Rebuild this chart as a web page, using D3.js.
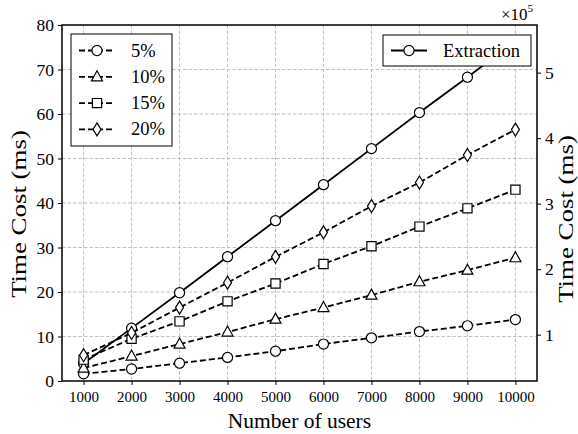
<!DOCTYPE html>
<html>
<head>
<meta charset="utf-8">
<script src="https://cdn.jsdelivr.net/npm/d3@7"></script>
<style>
  body { margin: 0; background: #fff; }
</style>
</head>
<body>
<svg id="chart" width="578" height="434"></svg>
<script>
// number of users (x categories)
var users = [1000, 2000, 3000, 4000, 5000, 6000, 7000, 8000, 9000, 10000];

// time cost (ms) for each sampling rate, left axis
var pct5  = [1.6, 2.7, 4.0, 5.3, 6.7, 8.3, 9.7, 11.1, 12.4, 13.8];
var pct10 = [2.9, 5.6, 8.3, 11.0, 13.9, 16.5, 19.3, 22.3, 24.9, 27.7];
var pct15 = [4.8, 9.5, 13.4, 17.9, 21.9, 26.3, 30.3, 34.7, 38.8, 43.0];
var pct20 = [5.8, 10.8, 16.5, 22.1, 27.9, 33.4, 39.3, 44.6, 50.8, 56.5];

// extraction time cost, right axis (x 10^5 ms)
var extraction = [0.56, 1.10, 1.64, 2.19, 2.74, 3.29, 3.84, 4.39, 4.93, 5.48];

var leftTicks = [0, 10, 20, 30, 40, 50, 60, 70, 80];
var rightTicks = [1, 2, 3, 4, 5];

var series = [
  { name: "5%",  values: pct5,  shape: "circle" },
  { name: "10%", values: pct10, shape: "triangle" },
  { name: "15%", values: pct15, shape: "square" },
  { name: "20%", values: pct20, shape: "diamond" }
];

var FONT = '"Liberation Serif", "Times New Roman", serif';
var margin = { left: 62, right: 41, top: 25, bottom: 53 };
var W = 578, H = 434;
var iw = W - margin.left - margin.right, ih = H - margin.top - margin.bottom;

var svg = d3.select("#chart").style("font-family", FONT);
var g = svg.append("g").attr("transform", "translate(" + margin.left + "," + margin.top + ")");

var x = d3.scalePoint().domain(users).range([0, iw]).padding(0.45);
var yL = d3.scaleLinear().domain([0, 80]).range([ih, 0]);
var yR = d3.scaleLinear().domain([0.293, 5.727]).range([ih, 0]);

// grid
g.append("g").selectAll("line").data(users).enter().append("line")
  .attr("x1", function(d) { return x(d); }).attr("x2", function(d) { return x(d); })
  .attr("y1", 0).attr("y2", ih)
  .attr("stroke", "#b0b0b0").attr("stroke-width", 0.8).attr("stroke-dasharray", "3.5,2");
g.append("g").selectAll("line").data(leftTicks.slice(1, -1)).enter().append("line")
  .attr("x1", 0).attr("x2", iw)
  .attr("y1", function(d) { return yL(d); }).attr("y2", function(d) { return yL(d); })
  .attr("stroke", "#b0b0b0").attr("stroke-width", 0.8).attr("stroke-dasharray", "3.5,2");

function drawMarker(sel, shape) {
  var p;
  if (shape === "diamond") {
    p = sel.append("path").attr("d", "M0,-6.5L4,0L0,6.5L-4,0Z");
  } else if (shape === "triangle") {
    p = sel.append("path").attr("d", "M0,-6L5.5,4L-5.5,4Z");
  } else if (shape === "square") {
    p = sel.append("path").attr("d", d3.symbol().type(d3.symbolSquare).size(85)());
  } else {
    p = sel.append("path").attr("d", d3.symbol().type(d3.symbolCircle).size(80)());
  }
  p.attr("fill", "#fff").attr("stroke", "#000").attr("stroke-width", 1.2);
}

var lineL = d3.line().x(function(d, i) { return x(users[i]); }).y(function(d) { return yL(d); });
var lineR = d3.line().x(function(d, i) { return x(users[i]); }).y(function(d) { return yR(d); });

var plot = g.append("g");
plot.append("clipPath").attr("id", "clip").append("rect").attr("width", iw).attr("height", ih);
var clipped = plot.append("g").attr("clip-path", "url(#clip)");

// extraction line (right axis)
clipped.append("path").datum(extraction).attr("d", lineR)
  .attr("fill", "none").attr("stroke", "#000").attr("stroke-width", 1.8);
clipped.selectAll(".ext").data(extraction).enter().append("g")
  .attr("transform", function(d, i) { return "translate(" + x(users[i]) + "," + yR(d) + ")"; })
  .each(function() { drawMarker(d3.select(this), "circle"); });

series.forEach(function(s) {
  clipped.append("path").datum(s.values).attr("d", lineL)
    .attr("fill", "none").attr("stroke", "#000").attr("stroke-width", 1.8)
    .attr("stroke-dasharray", "6,3");
  clipped.selectAll(null).data(s.values).enter().append("g")
    .attr("transform", function(d, i) { return "translate(" + x(users[i]) + "," + yL(d) + ")"; })
    .each(function() { drawMarker(d3.select(this), s.shape); });
});

// axes
var axB = g.append("g").attr("transform", "translate(0," + ih + ")")
  .call(d3.axisBottom(x).tickSize(4).tickPadding(6));
var axL = g.append("g").call(d3.axisLeft(yL).tickValues(leftTicks).tickSize(4).tickPadding(4));
var axR = g.append("g").attr("transform", "translate(" + iw + ",0)")
  .call(d3.axisRight(yR).tickValues(rightTicks).tickFormat(d3.format("d")).tickSize(4).tickPadding(4));
[axB, axL, axR].forEach(function(a) {
  a.attr("font-family", null);
  a.select(".domain").remove();
  a.selectAll(".tick line").attr("stroke", "#000").attr("stroke-width", 1);
  a.selectAll(".tick text").style("font-family", FONT).style("font-size", "17.5px").attr("fill", "#000");
});
axB.selectAll(".tick text").style("font-size", "15px");

g.append("rect").attr("width", iw).attr("height", ih)
  .attr("fill", "none").attr("stroke", "#000").attr("stroke-width", 1.5);

// axis labels
svg.append("text").attr("x", margin.left + iw / 2).attr("y", 428)
  .attr("text-anchor", "middle").style("font-size", "21.5px").text("Number of users");
svg.append("text").attr("transform", "translate(26,214) rotate(-90) scale(1.28,1)")
  .attr("text-anchor", "middle").style("font-size", "21px").text("Time Cost (ms)");
svg.append("text").attr("transform", "translate(573,219) rotate(-90) scale(1.28,1)")
  .attr("text-anchor", "middle").style("font-size", "21px").text("Time Cost (ms)");

// x10^5 offset
var off = svg.append("text").attr("x", 533).attr("y", 20).attr("text-anchor", "end").style("font-size", "17px");
off.append("tspan").text("\u00d710");
off.append("tspan").attr("dy", -8).style("font-size", "11px").text("5");

// left legend
var legL = svg.append("g").attr("transform", "translate(71,34)");
legL.append("rect").attr("width", 101).attr("height", 112)
  .attr("fill", "#fff").attr("stroke", "#000").attr("stroke-width", 1);
series.forEach(function(s, i) {
  var row = legL.append("g").attr("transform", "translate(0," + (16.5 + i * 26.3) + ")");
  row.append("line").attr("x1", 8).attr("x2", 44).attr("y1", 0).attr("y2", 0)
    .attr("stroke", "#000").attr("stroke-width", 1.8).attr("stroke-dasharray", "6,3");
  drawMarker(row.append("g").attr("transform", "translate(26,0)"), s.shape);
  row.append("text").attr("x", 60).attr("y", 6).style("font-size", "18.5px").text(s.name);
});

// right legend
var legR = svg.append("g").attr("transform", "translate(383,35)");
legR.append("rect").attr("width", 148).attr("height", 31)
  .attr("fill", "#fff").attr("stroke", "#000").attr("stroke-width", 1);
legR.append("line").attr("x1", 8).attr("x2", 44).attr("y1", 15.5).attr("y2", 15.5)
  .attr("stroke", "#000").attr("stroke-width", 1.8);
drawMarker(legR.append("g").attr("transform", "translate(26,15.5)"), "circle");
legR.append("text").attr("x", 60).attr("y", 22).style("font-size", "18.5px").text("Extraction");
</script>
</body>
</html>
